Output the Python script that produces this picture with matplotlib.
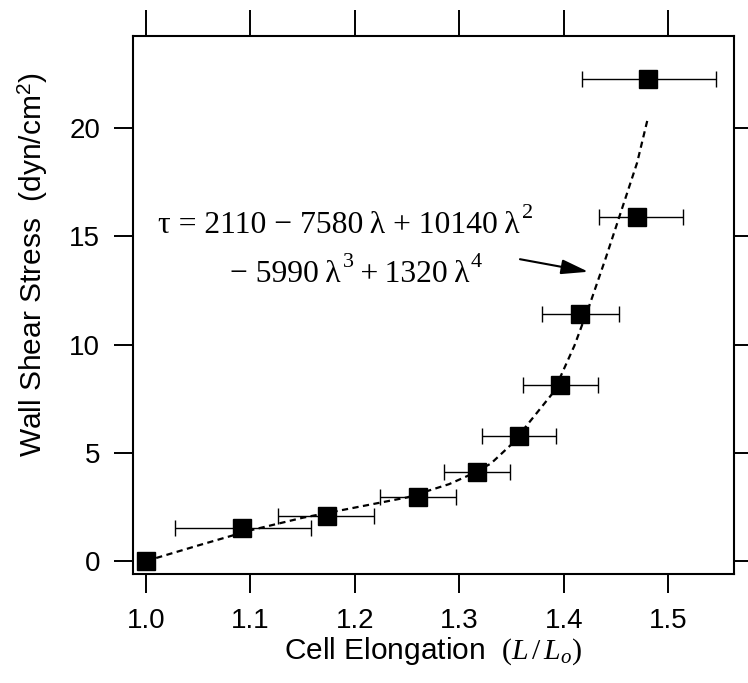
import matplotlib
matplotlib.use("Agg")
import matplotlib.pyplot as plt
from matplotlib.transforms import IdentityTransform

# ---- data ----
elongation = [1.0, 1.092, 1.173, 1.260, 1.317, 1.357, 1.3965, 1.4153, 1.4702, 1.4807]
stress = [0.0, 1.51, 2.09, 2.97, 4.12, 5.77, 8.12, 11.39, 15.87, 22.26]
xerr_low = [0.0, 0.0644, 0.0463, 0.0364, 0.032, 0.035, 0.036, 0.0366, 0.0367, 0.0632]
xerr_high = [0.0, 0.0658, 0.0456, 0.037, 0.031, 0.035, 0.0363, 0.0373, 0.0437, 0.0648]

fit_x = [1.00, 1.05, 1.10, 1.15, 1.20, 1.25, 1.29, 1.31, 1.33, 1.35, 1.37, 1.39,
         1.41, 1.425, 1.44, 1.455, 1.47, 1.48]
fit_y = [0.0, 0.72, 1.42, 2.0, 2.47, 2.94, 3.55, 3.98, 4.5, 5.4, 6.6, 7.8,
         9.95, 11.9, 14.0, 16.2, 18.4, 20.4]

x_ticks = [1.0, 1.1, 1.2, 1.3, 1.4, 1.5]
x_ticklabels = ["1.0", "1.1", "1.2", "1.3", "1.4", "1.5"]
y_ticks = [0, 5, 10, 15, 20]
y_ticklabels = ["0", "5", "10", "15", "20"]

# equation pieces: (base text, superscript)
eq_line1 = [("\u03c4 = 2110 \u2212 7580\u2009\u03bb + 10140\u2009\u03bb", "2")]
eq_line2 = [("\u2212 5990\u2009\u03bb", "3"), ("\u2009+\u20091320\u2009\u03bb", "4")]

plt.rcParams['font.family'] = ['Liberation Sans', 'DejaVu Sans']
plt.rcParams['mathtext.fontset'] = 'custom'
plt.rcParams['mathtext.rm'] = 'Liberation Serif'
plt.rcParams['mathtext.it'] = 'Liberation Serif:italic'
plt.rcParams['mathtext.sf'] = 'Liberation Sans'

fig = plt.figure(figsize=(7.48, 6.83), dpi=100)
ax = fig.add_axes([0.1774, 0.1591, 0.8039, 0.7876])

ax.plot(fit_x, fit_y, color='black', lw=1.6, linestyle=(0, (2.8, 2.0)), zorder=2)

ax.errorbar(elongation, stress, xerr=[xerr_low, xerr_high], fmt='none',
            ecolor='black', elinewidth=1.0, capsize=5.8, capthick=1.0, zorder=3)
ax.plot(elongation, stress, linestyle='none', marker='s', markersize=13,
        color='black', zorder=4)

ax.set_xlim(0.9873, 1.5627)
ax.set_ylim(-0.614, 24.23)
ax.set_xticks(x_ticks)
ax.set_xticklabels(x_ticklabels)
ax.set_yticks(y_ticks)
ax.set_yticklabels(y_ticklabels)

ax.tick_params(axis='both', which='major', direction='out', length=13.5, width=1.4,
               labelsize=20, top=True, right=True, pad=10)
ax.tick_params(axis='x', which='major', top=True, labeltop=False)
ax.xaxis.set_tick_params(which='major', pad=11)
for t in ax.xaxis.get_major_ticks():
    t.tick2line.set_markersize(18.5)
for s in ax.spines.values():
    s.set_linewidth(1.5)

ax.set_xlabel(r"Cell Elongation  $(\mathit{L}\,/\,\mathit{L}_{\mathit{o}})$", fontsize=21.5, labelpad=1)
ax.set_ylabel(r"Wall Shear Stress  (dyn/cm$^{\mathsf{2}}$)", fontsize=21.5)
ax.yaxis.set_label_coords(-0.1375, 0.575)

ax.annotate('', xy=(1.4233, 13.36), xytext=(1.3579, 13.94),
            arrowprops=dict(arrowstyle='-|>,head_length=1.1,head_width=0.3',
                            mutation_scale=15, lw=1.5, color='black',
                            shrinkA=0, shrinkB=0))

# equation text in a Times-like font with raised superscripts
fig.canvas.draw()
renderer = fig.canvas.get_renderer()
serif = 'Liberation Serif'
base_fs = 22.8
sup_fs = 16
raise_px = 15
sup_gap_px = 2


def draw_line(pieces, x0, y0):
    px, py = ax.transData.transform((x0, y0))
    for base, sup in pieces:
        t = ax.text(px, py, base, transform=IdentityTransform(), family=serif,
                    fontsize=base_fs, ha='left', va='baseline')
        ext = t.get_window_extent(renderer)
        px = ext.x1 + sup_gap_px
        s = ax.text(px, py + raise_px, sup, transform=IdentityTransform(), family=serif,
                    fontsize=sup_fs, ha='left', va='baseline')
        ext2 = s.get_window_extent(renderer)
        px = ext2.x1


draw_line(eq_line1, 1.0115, 15.15)
draw_line(eq_line2, 1.0804, 12.89)

fig.savefig('out.png', dpi=100)
